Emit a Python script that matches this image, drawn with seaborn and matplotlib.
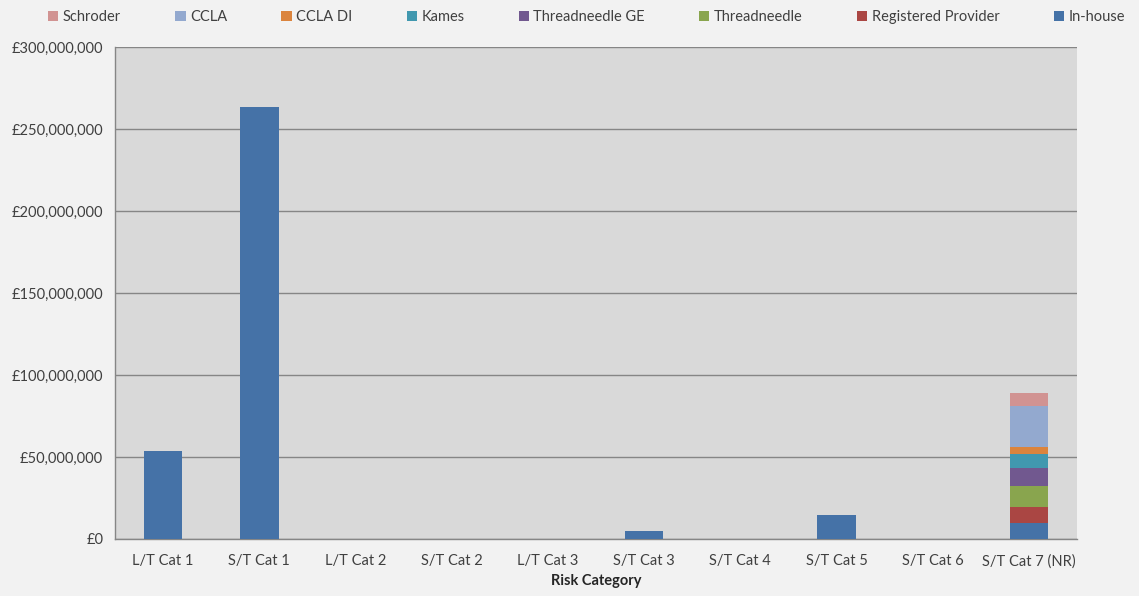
import matplotlib
matplotlib.use("Agg")
import matplotlib.pyplot as plt
import matplotlib.ticker as mticker
from matplotlib.patches import Patch
import seaborn as sns
import pandas as pd
import numpy as np

categories = ["L/T Cat 1", "S/T Cat 1", "L/T Cat 2", "S/T Cat 2", "L/T Cat 3",
              "S/T Cat 3", "S/T Cat 4", "S/T Cat 5", "S/T Cat 6", "S/T Cat 7 (NR)"]

# stacking order bottom -> top
series_names = ["In-house", "Registered Provider", "Threadneedle", "Threadneedle GE",
                "Kames", "CCLA DI", "CCLA", "Schroder"]
in_house = [53.7e6, 263.5e6, 0, 0, 0, 4.9e6, 0, 14.6e6, 0, 9.8e6]
registered_provider = [0, 0, 0, 0, 0, 0, 0, 0, 0, 9.9e6]
threadneedle = [0, 0, 0, 0, 0, 0, 0, 0, 0, 12.8e6]
threadneedle_ge = [0, 0, 0, 0, 0, 0, 0, 0, 0, 10.6e6]
kames = [0, 0, 0, 0, 0, 0, 0, 0, 0, 8.9e6]
ccla_di = [0, 0, 0, 0, 0, 0, 0, 0, 0, 4.1e6]
ccla = [0, 0, 0, 0, 0, 0, 0, 0, 0, 25.0e6]
schroder = [0, 0, 0, 0, 0, 0, 0, 0, 0, 7.7e6]
series_values = [in_house, registered_provider, threadneedle, threadneedle_ge,
                 kames, ccla_di, ccla, schroder]
colors = ["#4572a7", "#aa4643", "#89a54e", "#71588f", "#4198af", "#db843d", "#93a9cf", "#d19392"]

sns.set_theme(style="white")
plt.rcParams["font.family"] = ["Lato", "DejaVu Sans"]

fig = plt.figure(figsize=(11.39, 5.96), dpi=100, facecolor="#f2f2f2")
ax = fig.add_axes([115/1139, 1 - 539/596, (1077-115)/1139, (539-47)/596])
ax.set_facecolor("#d9d9d9")

cum = np.cumsum(np.array(series_values), axis=0)
# draw from top cumulative down so lower segments overlay
for i in range(len(series_names) - 1, -1, -1):
    df = pd.DataFrame({"cat": categories, "val": cum[i]})
    sns.barplot(data=df, x="cat", y="val", color=colors[i], width=0.4,
                saturation=1, ax=ax, order=categories, zorder=3,
                linewidth=0, edgecolor="none")

ax.set_ylim(0, 300e6)
ax.set_xlim(-0.5, len(categories) - 0.5)
ax.yaxis.set_major_locator(mticker.MultipleLocator(50e6))
ax.yaxis.set_major_formatter(mticker.FuncFormatter(lambda v, p: "£{:,.0f}".format(v)))
ax.grid(axis="y", color="#868686", linewidth=1, zorder=0)
ax.set_axisbelow(True)

ax.set_xticks(np.arange(len(categories)))
ax.set_xticklabels(categories)
ax.set_xticks(np.arange(-0.5, len(categories), 1), minor=True)
ax.tick_params(axis="x", which="major", length=0, pad=11, labelsize=10.5)
ax.tick_params(axis="x", which="minor", length=5, width=1, color="#868686", direction="out")
ax.tick_params(axis="y", which="major", length=5, width=1, color="#868686", direction="out",
               labelsize=10.5)
ax.tick_params(axis="y", labelcolor="#404040")
ax.tick_params(axis="x", labelcolor="#404040")

for s in ["top", "right"]:
    ax.spines[s].set_visible(False)
for s in ["left", "bottom"]:
    ax.spines[s].set_color("#868686")
    ax.spines[s].set_linewidth(1)

ax.set_xlabel("Risk Category", fontsize=10.5, fontweight="bold", color="#262626", labelpad=4)
ax.set_ylabel("")

handles = [Patch(facecolor=colors[i], edgecolor="none") for i in range(len(series_names) - 1, -1, -1)]
labels = [series_names[i] for i in range(len(series_names) - 1, -1, -1)]
fig.legend(handles, labels, loc="upper left", bbox_to_anchor=(38/1139, 1.0, (1135-38)/1139, 0.0),
           mode="expand", ncol=8, frameon=False, fontsize=10.5, handlelength=0.7, handleheight=0.7,
           handletextpad=0.3, borderaxespad=0.3, labelcolor="#404040")

fig.savefig("out.png", dpi=100, facecolor=fig.get_facecolor())
